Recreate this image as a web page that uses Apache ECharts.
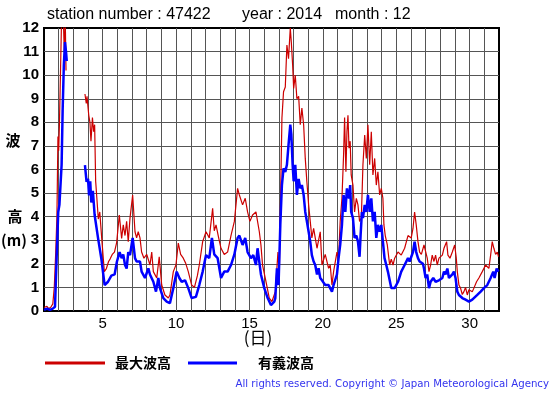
<!DOCTYPE html>
<html><head><meta charset="utf-8">
<script src="https://cdn.jsdelivr.net/npm/echarts@6/dist/echarts.min.js"></script>
<style>html,body{margin:0;padding:0;background:#fff}#c{width:555px;height:395px}</style>
</head><body><div id="c"></div>
<script>
// Maximum wave height (red) : day of month, value (m); null = missing
const redDay = [1.0,1.1,1.2,1.3,1.45,1.6,1.7,1.8,1.88,1.95,2.0,2.05,2.12,2.2,2.3,2.38,2.45,2.5,3.0,
3.79,3.88,3.93,4.0,4.05,4.13,4.2,4.3,4.38,4.45,4.52,4.7,4.8,4.93,5.11,5.25,5.4,5.5,5.65,5.8,5.95,6.13,
6.29,6.40,6.52,6.63,6.74,6.86,7.04,7.20,7.31,7.42,7.54,7.65,7.81,8.0,8.22,8.34,8.45,8.68,8.85,9.02,9.24,9.47,9.58,9.81,9.99,
10.15,10.31,10.49,10.65,10.83,11.06,11.25,11.45,11.58,11.81,12.04,12.26,12.49,12.60,12.72,12.90,13.06,13.28,13.51,13.74,13.97,
14.19,14.31,14.53,14.71,14.87,15.03,15.21,15.44,15.67,15.78,15.89,16.12,16.35,16.53,16.76,16.94,17.03,17.21,17.32,17.44,17.55,
17.66,17.78,17.85,17.94,18.01,18.12,18.23,18.35,18.46,18.57,18.69,18.80,18.91,19.03,19.14,19.25,19.37,19.60,19.82,19.94,
20.16,20.39,20.50,20.62,20.73,20.96,21.07,21.18,21.30,21.41,21.48,21.57,21.64,21.71,21.78,21.86,21.93,22.05,22.16,22.28,22.39,
22.50,22.62,22.73,22.85,22.96,23.07,23.19,23.30,23.41,23.53,23.64,23.75,23.87,23.98,24.09,24.16,24.25,24.39,24.55,24.66,24.78,
24.89,25.12,25.34,25.57,25.80,26.02,26.14,26.25,26.36,26.48,26.59,26.71,26.89,27.11,27.23,27.34,27.45,27.57,27.68,27.79,27.91,
28.14,28.25,28.43,28.52,28.66,28.82,28.98,29.09,29.16,29.27,29.38,29.50,29.61,29.72,29.84,29.95,30.06,30.18,30.29,30.47,30.63,
30.86,31.09,31.31,31.43,31.54,31.65,31.77,31.88,31.97];
const redVal = [0.15,0.1,0.2,0.1,0.15,0.3,1.0,2.5,4.0,7.4,6.8,7.9,10.0,12.5,12.8,11.0,12.3,10.2,null,
9.2,8.8,9.1,9.16,8.3,8.0,7.2,8.2,7.6,7.9,5.5,3.9,4.2,3.1,1.67,1.8,2.1,2.2,2.4,2.5,2.9,4.07,
3.08,3.65,3.2,3.8,2.94,3.94,4.92,3.36,3.1,3.36,3.1,2.5,2.24,2.4,1.95,2.5,1.67,1.4,2.3,1.1,0.68,0.55,0.68,1.67,1.95,
2.88,2.4,2.24,2.03,1.67,1.1,1.0,1.5,1.95,2.94,3.36,3.1,4.35,3.4,3.65,3.1,2.66,2.4,2.5,3.2,3.8,
5.2,4.92,4.5,4.78,4.2,3.8,4.07,4.2,3.36,2.8,1.95,1.26,0.55,0.4,0.82,2.5,1.55,8.17,9.3,9.5,11.28,
10.7,12.0,11.4,10.43,9.44,10.0,9.0,9.1,7.9,8.6,7.9,6.47,5.48,4.5,3.8,3.1,3.5,2.66,3.36,1.95,
2.4,1.81,1.95,1.1,1.67,2.5,2.24,3.8,4.78,6.6,8.2,5.9,7.6,8.3,6.9,7.2,5.77,5.34,4.2,4.78,4.5,
3.8,3.94,6.2,7.46,6.47,7.9,6.2,7.6,5.77,6.47,5.34,5.9,4.92,5.2,4.78,3.65,3.2,2.8,1.95,2.2,1.95,
2.24,2.5,2.37,2.66,3.2,3.1,3.5,4.2,3.65,2.94,2.5,2.4,2.8,2.24,1.67,1.95,2.37,2.1,2.37,1.95,2.24,
2.37,2.66,2.94,2.37,2.24,2.5,2.8,2.24,1.67,1.1,0.97,0.7,0.82,1.0,0.68,0.9,0.97,0.82,0.97,1.24,1.4,
1.67,1.95,1.81,2.37,2.94,2.66,2.4,2.5,2.3];

// Significant wave height (blue)
const blueDay = [1.0,1.2,1.4,1.6,1.75,1.86,1.97,2.05,2.2,2.27,2.35,2.43,2.5,2.55,3.0,
3.79,3.9,4.0,4.07,4.15,4.22,4.33,4.45,4.68,4.9,5.13,5.36,5.59,5.81,5.97,6.15,
6.29,6.40,6.52,6.63,6.74,6.86,7.04,7.20,7.31,7.54,7.65,7.88,8.11,8.22,8.45,8.63,8.79,8.9,9.13,9.36,9.58,9.81,
10.04,10.22,10.38,10.61,10.83,11.06,11.35,11.58,11.81,12.04,12.26,12.44,12.6,12.83,13.06,13.28,13.51,13.74,13.97,
14.19,14.31,14.53,14.71,14.87,15.1,15.26,15.44,15.55,15.78,16.01,16.24,16.46,16.69,16.76,16.87,16.98,17.1,17.21,17.32,17.44,
17.55,17.66,17.78,17.85,17.94,18.01,18.12,18.23,18.35,18.46,18.57,18.69,18.8,18.91,19.03,19.14,19.25,19.37,19.48,19.6,19.71,
19.82,19.94,20.16,20.39,20.62,20.73,20.96,21.07,21.18,21.3,21.41,21.53,21.64,21.71,21.78,21.86,21.93,22.05,22.16,22.28,22.39,
22.5,22.57,22.66,22.73,22.85,22.96,23.07,23.19,23.3,23.41,23.53,23.64,23.75,23.87,23.98,24.09,24.2,24.32,24.43,24.66,24.89,
25.12,25.34,25.57,25.8,25.91,26.14,26.25,26.36,26.48,26.59,26.71,26.82,26.89,27.0,27.11,27.23,27.34,27.52,27.68,27.91,
28.14,28.25,28.36,28.48,28.59,28.82,28.93,29.04,29.16,29.27,29.5,29.72,29.95,30.18,30.29,30.52,30.75,30.97,31.2,31.43,31.61,
31.7,31.84,31.97];
const blueVal = [0.05,0.1,0.05,0.1,0.18,2.24,4.2,4.5,6.2,8.5,10.4,11.4,11.0,10.6,null,
6.19,5.48,5.6,4.9,5.5,4.6,5.1,4.07,3.1,2.25,1.1,1.24,1.5,1.55,2.1,2.5,
2.24,2.4,1.95,1.8,2.5,2.37,3.1,2.24,2.1,2.1,1.67,1.4,1.81,1.55,1.24,0.82,1.4,0.97,0.55,0.4,0.33,0.97,
1.67,1.4,1.24,1.3,0.97,0.55,0.6,1.1,1.67,2.37,2.24,3.1,2.4,2.24,1.4,1.67,1.67,1.95,2.4,
3.1,3.2,2.8,3.1,2.5,2.24,2.37,1.95,2.66,1.55,0.97,0.55,0.25,0.4,0.55,1.81,1.1,3.65,5.34,6.05,5.9,
6.2,7.04,7.9,7.5,6.2,5.5,6.2,4.92,5.6,5.2,5.34,4.92,4.2,3.8,3.36,2.94,2.37,2.1,1.95,1.55,1.81,
1.4,1.3,1.1,1.1,0.82,1.1,1.55,2.24,2.8,3.65,4.92,4.2,5.2,4.9,4.78,5.34,4.2,3.94,3.1,3.2,2.94,
2.3,3.2,4.2,3.94,4.5,4.2,4.92,4.2,4.78,3.8,4.2,3.1,3.65,3.36,3.65,2.94,2.24,1.95,1.67,0.97,0.97,
1.24,1.67,1.95,2.24,2.1,2.5,2.94,2.5,2.24,2.1,2.1,2.0,1.8,1.4,1.55,0.97,1.24,1.4,1.24,1.3,
1.4,1.67,1.55,1.8,1.4,1.55,1.67,1.4,0.82,0.68,0.55,0.48,0.4,0.48,0.55,0.68,0.82,0.97,1.1,1.4,1.67,
1.4,1.8,1.67];

const xTicks = [5,10,15,20,25,30];
const yTicks = [0,1,2,3,4,5,6,7,8,9,10,11,12];
const legendNames = ['最大波高','有義波高'];

function pairs(d, v){ return d.map((x,i)=>[x, v[i]==null ? '-' : v[i]]); }

const chart = echarts.init(document.getElementById('c'), null, {renderer:'canvas'});
const FONT = '"Liberation Sans", Arial, sans-serif';
const CJK = '"Noto Sans CJK JP", sans-serif';
chart.setOption({
  animation:false,
  backgroundColor:'#fff',
  grid:{left:44,right:56,top:28,bottom:84,show:true,borderColor:'#000',borderWidth:2,backgroundColor:'transparent'},
  xAxis:{type:'value',min:1,max:32,interval:1,
    axisLine:{show:false},axisTick:{show:false},
    axisLabel:{margin:5,color:'#000',fontSize:15,fontFamily:FONT,
      formatter:v=> xTicks.indexOf(v)>=0 ? String(v) : ''},
    splitLine:{show:true,showMinLine:false,showMaxLine:false,lineStyle:{color:'#555',width:1}}},
  yAxis:{type:'value',min:0,max:12,interval:1,
    axisLine:{show:false},axisTick:{show:false},
    axisLabel:{margin:5,color:'#000',fontSize:15,fontWeight:'bold',fontFamily:FONT,
      formatter:v=> yTicks.indexOf(v)>=0 ? String(v) : ''},
    splitLine:{show:true,showMinLine:false,showMaxLine:false,lineStyle:{color:'#555',width:1}}},
  series:[
    {name:legendNames[0],type:'line',data:pairs(redDay,redVal),showSymbol:false,symbol:'none',
     lineStyle:{color:'#cc0000',width:1.2},connectNulls:false,clip:true,z:3},
    {name:legendNames[1],type:'line',data:pairs(blueDay,blueVal),showSymbol:false,symbol:'none',
     lineStyle:{color:'#0000ff',width:2.5},connectNulls:false,clip:true,z:4}
  ],
  graphic:[
    {type:'text',left:47,top:7,style:{text:'station number : 47422',font:'16px '+FONT,fill:'#000'}},
    {type:'text',left:242,top:7,style:{text:'year : 2014',font:'16px '+FONT,fill:'#000'}},
    {type:'text',left:335,top:7,style:{text:'month : 12',font:'16px '+FONT,fill:'#000'}},
    {type:'text',x:13,y:140,style:{text:'波',font:'bold 15px '+CJK,fill:'#000',align:'center',verticalAlign:'middle'}},
    {type:'text',x:15,y:216,style:{text:'高',font:'bold 15px '+CJK,fill:'#000',align:'center',verticalAlign:'middle'}},
    {type:'text',x:14,y:240,style:{text:'(m)',font:'bold 15px '+CJK,fill:'#000',align:'center',verticalAlign:'middle'}},
    {type:'text',x:258,y:338,style:{text:'(日)',font:'17px '+CJK,fill:'#000',align:'center',verticalAlign:'middle'}},
    {type:'line',shape:{x1:45,y1:363,x2:105,y2:363},style:{stroke:'#cc0000',lineWidth:3}},
    {type:'text',x:115,y:363,style:{text:legendNames[0],font:'bold 14px '+CJK,fill:'#000',verticalAlign:'middle'}},
    {type:'line',shape:{x1:188,y1:363,x2:237,y2:363},style:{stroke:'#0000ff',lineWidth:3}},
    {type:'text',x:258,y:363,style:{text:legendNames[1],font:'bold 14px '+CJK,fill:'#000',verticalAlign:'middle'}},
    {type:'text',x:549,y:384,style:{text:'All rights reserved. Copyright © Japan Meteorological Agency',font:'10.2px "DejaVu Sans", sans-serif',fill:'#3333ee',align:'right',verticalAlign:'middle'}}
  ]
});
</script></body></html>
